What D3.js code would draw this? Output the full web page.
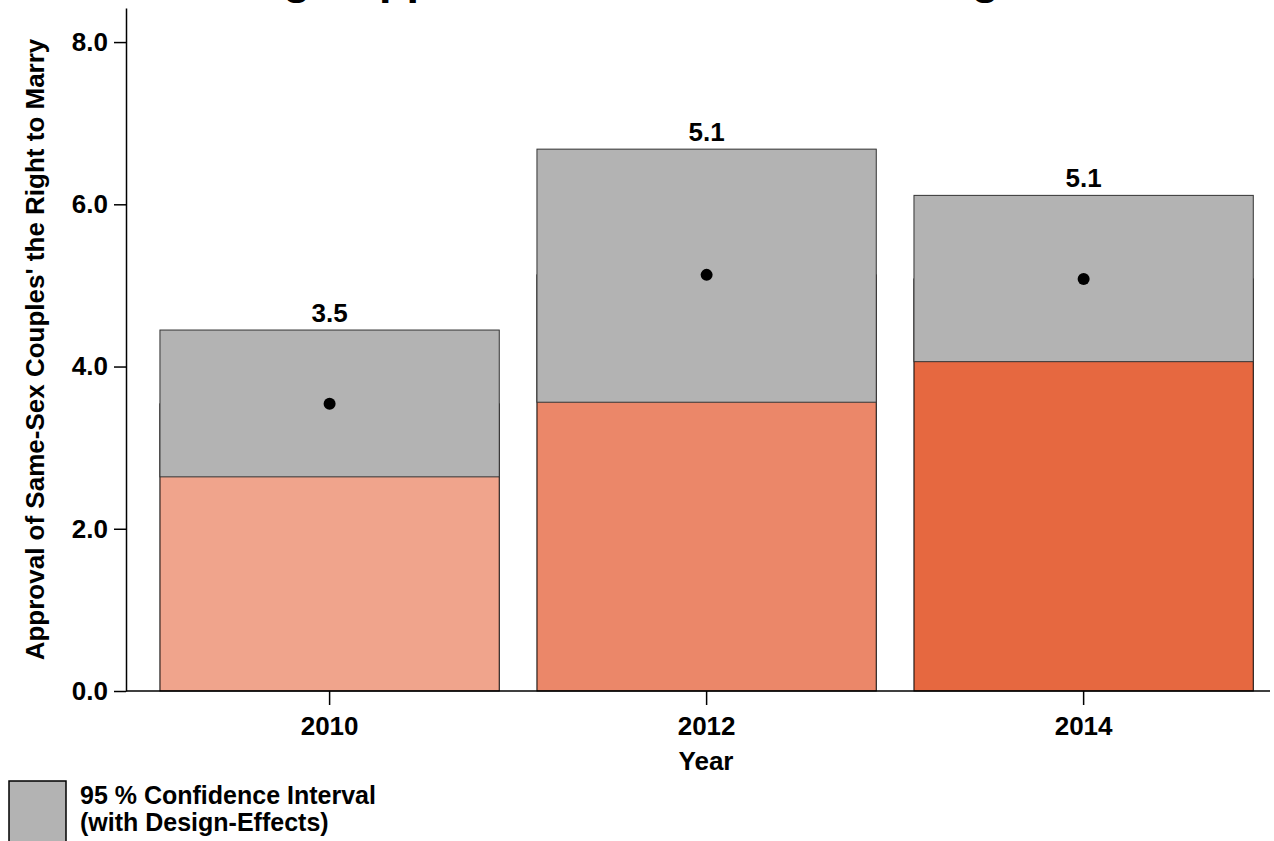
<!DOCTYPE html>
<html>
<head>
<meta charset="utf-8">
<script src="https://cdn.jsdelivr.net/npm/d3@7"></script>
<style>
  html, body { margin: 0; padding: 0; background: #fff; }
  svg { display: block; }
  text { font-family: "Liberation Sans", Arial, sans-serif; font-weight: bold; }
</style>
</head>
<body>
<svg id="chart" width="1274" height="841"></svg>
<script>
// ---- data ----
const years = ["2010", "2012", "2014"];
const means = [3.54, 5.13, 5.08];
const ciLower = [2.64, 3.56, 4.06];
const ciUpper = [4.45, 6.68, 6.11];
const valueLabels = ["3.5", "5.1", "5.1"];
const barColors = ["#F0A48C", "#EB8769", "#E66840"];
const yTicks = [0, 2, 4, 6, 8];

const titleText = "Average Approval of Same-Sex Marriage";
const yTitle = "Approval of Same-Sex Couples' the Right to Marry";
const xTitle = "Year";
const legendLines = ["95 % Confidence Interval", "(with Design-Effects)"];

// ---- layout ----
const W = 1274, H = 841;
const m = { left: 126, right: 4, top: 8, bottom: 150 };
const svg = d3.select("#chart");

const x = d3.scaleBand()
  .domain(years)
  .range([m.left, W - m.right])
  .paddingInner(0.1)
  .paddingOuter(0.0672)
  .align(0.67);

const y = d3.scaleLinear()
  .domain([0, 8.42])
  .range([H - m.bottom, m.top]);

// title (mostly clipped at top, as in reference)
svg.append("text")
  .attr("x", 592)
  .attr("y", -6)
  .attr("text-anchor", "middle")
  .style("font-size", "45px")
  .text(titleText);

// bars from 0 to mean
svg.append("g").selectAll("rect")
  .data(years)
  .join("rect")
  .attr("x", d => x(d))
  .attr("width", x.bandwidth())
  .attr("y", (d, i) => y(means[i]))
  .attr("height", (d, i) => y(0) - y(means[i]))
  .attr("fill", (d, i) => barColors[i])
  .attr("stroke", "#000")
  .attr("stroke-width", 1);

// CI rectangles
svg.append("g").selectAll("rect")
  .data(years)
  .join("rect")
  .attr("x", d => x(d))
  .attr("width", x.bandwidth())
  .attr("y", (d, i) => y(ciUpper[i]))
  .attr("height", (d, i) => y(ciLower[i]) - y(ciUpper[i]))
  .attr("fill", "#B3B3B3")
  .attr("stroke", "#333")
  .attr("stroke-width", 1);

// mean points
svg.append("g").selectAll("circle")
  .data(years)
  .join("circle")
  .attr("cx", d => x(d) + x.bandwidth() / 2)
  .attr("cy", (d, i) => y(means[i]))
  .attr("r", 6)
  .attr("fill", "#000");

// value labels
svg.append("g").selectAll("text")
  .data(years)
  .join("text")
  .attr("x", d => x(d) + x.bandwidth() / 2)
  .attr("y", (d, i) => y(ciUpper[i]) - 8)
  .attr("text-anchor", "middle")
  .style("font-size", "26px")
  .attr("fill", "#000")
  .text((d, i) => valueLabels[i]);

// y axis
const yAxis = svg.append("g")
  .attr("transform", `translate(${m.left},0)`)
  .call(d3.axisLeft(y).tickValues(yTicks).tickFormat(d3.format(".1f")).tickSize(12).tickPadding(6).tickSizeOuter(0));
yAxis.selectAll("text").style("font-size", "26px").attr("fill", "#000")
  .style("font-family", "'Liberation Sans', Arial, sans-serif").style("font-weight", "bold");
yAxis.selectAll("line,path").attr("stroke", "#000").attr("stroke-width", 1.5);

// x axis
const xAxis = svg.append("g")
  .attr("transform", `translate(0,${y(0)})`)
  .call(d3.axisBottom(x).tickSize(14).tickPadding(12).tickSizeOuter(0));
xAxis.select(".domain").remove();
xAxis.selectAll("text").style("font-size", "26px").attr("fill", "#000")
  .style("font-family", "'Liberation Sans', Arial, sans-serif").style("font-weight", "bold");
xAxis.selectAll("line").attr("stroke", "#000").attr("stroke-width", 1.5);
svg.append("line")
  .attr("x1", m.left).attr("x2", W - m.right)
  .attr("y1", y(0)).attr("y2", y(0))
  .attr("stroke", "#000").attr("stroke-width", 1.5);

// axis titles
svg.append("text")
  .attr("x", 706)
  .attr("y", 770)
  .attr("text-anchor", "middle")
  .style("font-size", "26px")
  .text(xTitle);

svg.append("text")
  .attr("transform", `translate(44,${(y(0) + m.top) / 2}) rotate(-90)`)
  .attr("text-anchor", "middle")
  .style("font-size", "26px")
  .text(yTitle);

// legend
svg.append("rect")
  .attr("x", 9).attr("y", 781)
  .attr("width", 57).attr("height", 80)
  .attr("fill", "#B3B3B3")
  .attr("stroke", "#000").attr("stroke-width", 1.5);

svg.append("g").selectAll("text")
  .data(legendLines)
  .join("text")
  .attr("x", 80)
  .attr("y", (d, i) => 804 + i * 27)
  .style("font-size", "25px")
  .text(d => d);
</script>
</body>
</html>
